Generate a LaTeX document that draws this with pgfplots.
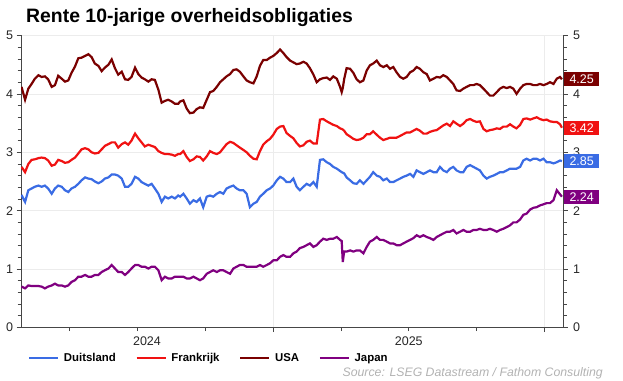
\documentclass[border=0pt]{standalone}
\usepackage{pgfplots}
\pgfplotsset{compat=1.18}
\usepackage{pgfplotstable}
\usepackage{fontspec}
\setmainfont{Liberation Sans}
\definecolor{decol}{RGB}{58,108,228}
\definecolor{frcol}{RGB}{240,18,18}
\definecolor{uscol}{RGB}{122,0,0}
\definecolor{jpcol}{RGB}{128,0,128}
\definecolor{axisgray}{RGB}{70,70,70}
\definecolor{gridgray}{RGB}{236,236,236}
\definecolor{srcgray}{RGB}{178,178,178}

\pgfplotstableread{
t de fr us jp
2024.074 2.27 2.75 4.12 0.70
2024.087 2.15 2.66 3.90 0.67
2024.099 2.35 2.80 4.09 0.72
2024.111 2.38 2.87 4.17 0.71
2024.123 2.41 2.88 4.26 0.71
2024.136 2.43 2.90 4.32 0.71
2024.148 2.41 2.91 4.29 0.70
2024.160 2.43 2.90 4.30 0.67
2024.172 2.38 2.86 4.25 0.70
2024.185 2.29 2.77 4.12 0.72
2024.197 2.38 2.79 4.15 0.75
2024.209 2.43 2.87 4.31 0.72
2024.222 2.41 2.85 4.26 0.72
2024.234 2.35 2.82 4.21 0.70
2024.246 2.32 2.83 4.23 0.72
2024.258 2.38 2.87 4.36 0.78
2024.271 2.41 2.91 4.47 0.81
2024.283 2.46 2.98 4.61 0.87
2024.295 2.52 3.05 4.62 0.87
2024.308 2.57 3.07 4.65 0.90
2024.320 2.55 3.05 4.68 0.87
2024.332 2.54 3.00 4.63 0.87
2024.344 2.50 2.98 4.52 0.90
2024.357 2.47 2.99 4.48 0.90
2024.369 2.50 3.05 4.39 0.95
2024.381 2.55 3.11 4.45 0.98
2024.394 2.57 3.14 4.50 1.01
2024.406 2.62 3.17 4.59 1.07
2024.418 2.62 3.17 4.44 1.01
2024.430 2.60 3.08 4.33 0.95
2024.443 2.55 3.14 4.38 0.95
2024.455 2.41 3.17 4.25 0.90
2024.467 2.41 3.13 4.24 0.95
2024.479 2.46 3.20 4.29 1.01
2024.492 2.58 3.32 4.45 1.07
2024.504 2.55 3.24 4.34 1.07
2024.516 2.49 3.17 4.28 1.04
2024.528 2.46 3.10 4.25 1.04
2024.541 2.43 3.13 4.21 1.01
2024.553 2.46 3.11 4.25 1.04
2024.565 2.38 3.09 4.24 1.04
2024.578 2.29 3.02 4.07 0.98
2024.590 2.15 2.99 3.85 0.81
2024.602 2.24 2.97 3.88 0.87
2024.614 2.21 2.97 3.90 0.84
2024.627 2.24 2.96 3.87 0.84
2024.639 2.21 2.94 3.83 0.87
2024.651 2.26 2.97 3.83 0.87
2024.658 2.24 2.97 3.87 0.87
2024.670 2.29 3.02 3.89 0.87
2024.682 2.21 2.92 3.75 0.84
2024.694 2.12 2.85 3.67 0.84
2024.707 2.18 2.88 3.68 0.87
2024.719 2.15 2.93 3.74 0.84
2024.731 2.21 2.92 3.77 0.81
2024.743 2.06 2.86 3.76 0.84
2024.756 2.24 2.93 3.90 0.92
2024.768 2.26 3.02 4.03 0.95
2024.780 2.24 2.99 4.05 0.98
2024.793 2.29 2.97 4.12 0.95
2024.805 2.32 3.00 4.20 0.98
2024.817 2.29 3.07 4.25 0.98
2024.829 2.38 3.14 4.30 0.95
2024.842 2.41 3.18 4.34 0.92
2024.854 2.43 3.16 4.41 1.01
2024.866 2.38 3.12 4.42 1.04
2024.878 2.35 3.08 4.38 1.07
2024.891 2.35 3.04 4.30 1.07
2024.903 2.29 3.00 4.23 1.04
2024.915 2.06 2.94 4.20 1.04
2024.928 2.12 2.89 4.18 1.04
2024.940 2.15 2.88 4.30 1.04
2024.952 2.24 3.02 4.48 1.07
2024.964 2.29 3.13 4.58 1.04
2024.977 2.35 3.19 4.58 1.07
2024.989 2.38 3.23 4.62 1.10
2025.001 2.43 3.30 4.65 1.15
2025.014 2.52 3.40 4.70 1.15
2025.026 2.58 3.44 4.76 1.21
2025.038 2.55 3.45 4.70 1.24
2025.050 2.49 3.33 4.63 1.21
2025.063 2.49 3.28 4.57 1.21
2025.075 2.55 3.24 4.54 1.27
2025.087 2.41 3.16 4.51 1.30
2025.099 2.35 3.10 4.52 1.36
2025.112 2.41 3.12 4.55 1.38
2025.124 2.46 3.18 4.52 1.41
2025.136 2.43 3.20 4.44 1.44
2025.149 2.49 3.15 4.33 1.38
2025.161 2.41 3.15 4.20 1.41
2025.173 2.87 3.56 4.25 1.47
2025.185 2.88 3.57 4.27 1.52
2025.198 2.83 3.53 4.28 1.50
2025.210 2.80 3.50 4.24 1.52
2025.222 2.75 3.47 4.30 1.52
2025.235 2.72 3.45 4.26 1.55
2025.247 2.68 3.41 4.12 1.50
2025.253 2.66 3.40 4.03 1.48
2025.257 2.65 3.39 4.10 1.12
2025.262 2.64 3.37 4.25 1.30
2025.271 2.57 3.31 4.44 1.30
2025.284 2.52 3.27 4.43 1.32
2025.296 2.47 3.23 4.36 1.30
2025.308 2.46 3.21 4.25 1.32
2025.320 2.52 3.22 4.20 1.32
2025.333 2.46 3.25 4.23 1.27
2025.345 2.52 3.31 4.40 1.38
2025.357 2.58 3.31 4.49 1.47
2025.369 2.66 3.36 4.52 1.50
2025.382 2.60 3.30 4.57 1.55
2025.394 2.58 3.25 4.49 1.50
2025.406 2.52 3.21 4.46 1.50
2025.419 2.55 3.23 4.49 1.47
2025.431 2.49 3.25 4.43 1.44
2025.443 2.49 3.25 4.46 1.44
2025.455 2.52 3.25 4.37 1.41
2025.468 2.55 3.28 4.29 1.41
2025.480 2.58 3.31 4.26 1.44
2025.492 2.60 3.34 4.29 1.47
2025.505 2.63 3.34 4.37 1.50
2025.517 2.58 3.37 4.40 1.53
2025.529 2.69 3.40 4.46 1.58
2025.541 2.66 3.37 4.43 1.55
2025.554 2.63 3.32 4.37 1.58
2025.566 2.66 3.32 4.34 1.55
2025.578 2.69 3.35 4.23 1.53
2025.591 2.66 3.37 4.26 1.50
2025.603 2.66 3.38 4.29 1.55
2025.615 2.75 3.42 4.28 1.58
2025.627 2.69 3.46 4.32 1.61
2025.640 2.66 3.49 4.29 1.64
2025.652 2.72 3.45 4.23 1.64
2025.664 2.75 3.53 4.17 1.67
2025.676 2.69 3.49 4.06 1.61
2025.689 2.66 3.45 4.05 1.64
2025.701 2.66 3.49 4.09 1.67
2025.713 2.75 3.55 4.12 1.64
2025.726 2.78 3.57 4.15 1.64
2025.738 2.75 3.54 4.15 1.67
2025.750 2.72 3.52 4.17 1.67
2025.762 2.69 3.53 4.15 1.69
2025.775 2.60 3.40 4.09 1.67
2025.787 2.55 3.36 4.03 1.67
2025.799 2.58 3.38 3.97 1.69
2025.811 2.60 3.39 3.97 1.67
2025.824 2.63 3.41 4.03 1.64
2025.836 2.66 3.40 4.09 1.67
2025.848 2.66 3.44 4.12 1.69
2025.861 2.69 3.44 4.10 1.72
2025.873 2.72 3.48 4.12 1.75
2025.885 2.72 3.44 4.09 1.80
2025.897 2.72 3.41 4.00 1.80
2025.910 2.75 3.47 4.09 1.85
2025.922 2.86 3.57 4.15 1.93
2025.934 2.89 3.58 4.17 1.95
2025.947 2.86 3.56 4.17 2.02
2025.959 2.89 3.58 4.15 2.05
2025.971 2.89 3.60 4.15 2.06
2025.983 2.86 3.57 4.17 2.09
2025.996 2.89 3.55 4.15 2.11
2026.008 2.83 3.56 4.17 2.13
2026.020 2.83 3.53 4.20 2.13
2026.033 2.81 3.52 4.17 2.18
2026.045 2.83 3.52 4.26 2.35
2026.057 2.86 3.48 4.29 2.28
2026.064 2.85 3.42 4.25 2.24
}\yields

\pgfplotsset{
  common/.style={
    at={(21pt,52.5pt)}, anchor=south west,
    scale only axis, width=542pt, height=292pt,
    xmin=2024.072, xmax=2026.068, ymin=0, ymax=5,
    axis line style={draw=axisgray, line width=0.8pt},
    tick align=outside,
    major tick length=4.5pt, minor tick length=3.5pt,
    tick style={axisgray, line width=0.7pt},
    ytick={0,1,2,3,4,5}, minor y tick num=4,
    tick label style={font=\fontsize{12.5}{13}\selectfont, text=black!85},
    /pgf/number format/assume math mode=true,
  }
}

\begin{document}
\begin{tikzpicture}
\path[use as bounding box] (0pt,0pt) rectangle (623pt,380pt);
\node[anchor=base west, font=\bfseries\fontsize{19.4}{22}\selectfont, inner sep=0pt] at (26pt,357pt) {Rente 10-jarige overheidsobligaties};

\begin{axis}[common,
  axis x line*=bottom, axis y line*=left,
  xtick={2025,2026}, xticklabels={},
  minor xtick={2024.25,2024.5,2024.75,2025.25,2025.5,2025.75},
  extra x ticks={2024.536,2025.5}, extra x tick labels={2024,2025},
  extra x tick style={major tick length=0pt, grid=none,
    xticklabel style={yshift=-6pt}},
  xmajorgrids, ymajorgrids,
  major grid style={gridgray, line width=0.7pt},
  legend columns=4,
  legend entries={Duitsland,Frankrijk,USA,Japan},
  legend image code/.code={\draw[#1, line width=2.5pt] (0pt,0pt) -- (29pt,0pt);},
  legend style={at={(0.0129,-0.104)}, anchor=west, draw=none, fill=none,
    inner sep=0pt, outer sep=0pt,
    font=\bfseries\fontsize{11.4}{12}\selectfont,
    nodes={inner sep=4.5pt},
    /tikz/every even column/.append style={column sep=15pt}},
]
\addplot[decol, line width=2.2pt] table[x=t, y=de] {\yields};
\addplot[frcol, line width=2.2pt] table[x=t, y=fr] {\yields};
\addplot[uscol, line width=2.2pt] table[x=t, y=us] {\yields};
\addplot[jpcol, line width=2.2pt] table[x=t, y=jp] {\yields};
\coordinate (lde) at (axis cs:2026.068,2.85);
\coordinate (lfr) at (axis cs:2026.068,3.42);
\coordinate (lus) at (axis cs:2026.068,4.25);
\coordinate (ljp) at (axis cs:2026.068,2.24);
\end{axis}

\begin{axis}[common,
  axis y line*=right, axis x line=none,
  yticklabel style={xshift=2pt},
]
\end{axis}

\foreach \c/\v/\col in {lus/4.25/uscol, lfr/3.42/frcol, lde/2.85/decol, ljp/2.24/jpcol}{
  \node[fill=\col, text=white, anchor=west, minimum width=35pt, minimum height=14pt,
        inner sep=0pt, font=\fontsize{12.5}{13}\selectfont] at ([xshift=1pt]\c) {\v};
}

\node[anchor=east, font=\itshape\fontsize{12.3}{13}\selectfont, text=srcgray, inner sep=0pt]
  at (603pt,7pt) {Source: LSEG Datastream / Fathom Consulting};
\end{tikzpicture}
\end{document}
